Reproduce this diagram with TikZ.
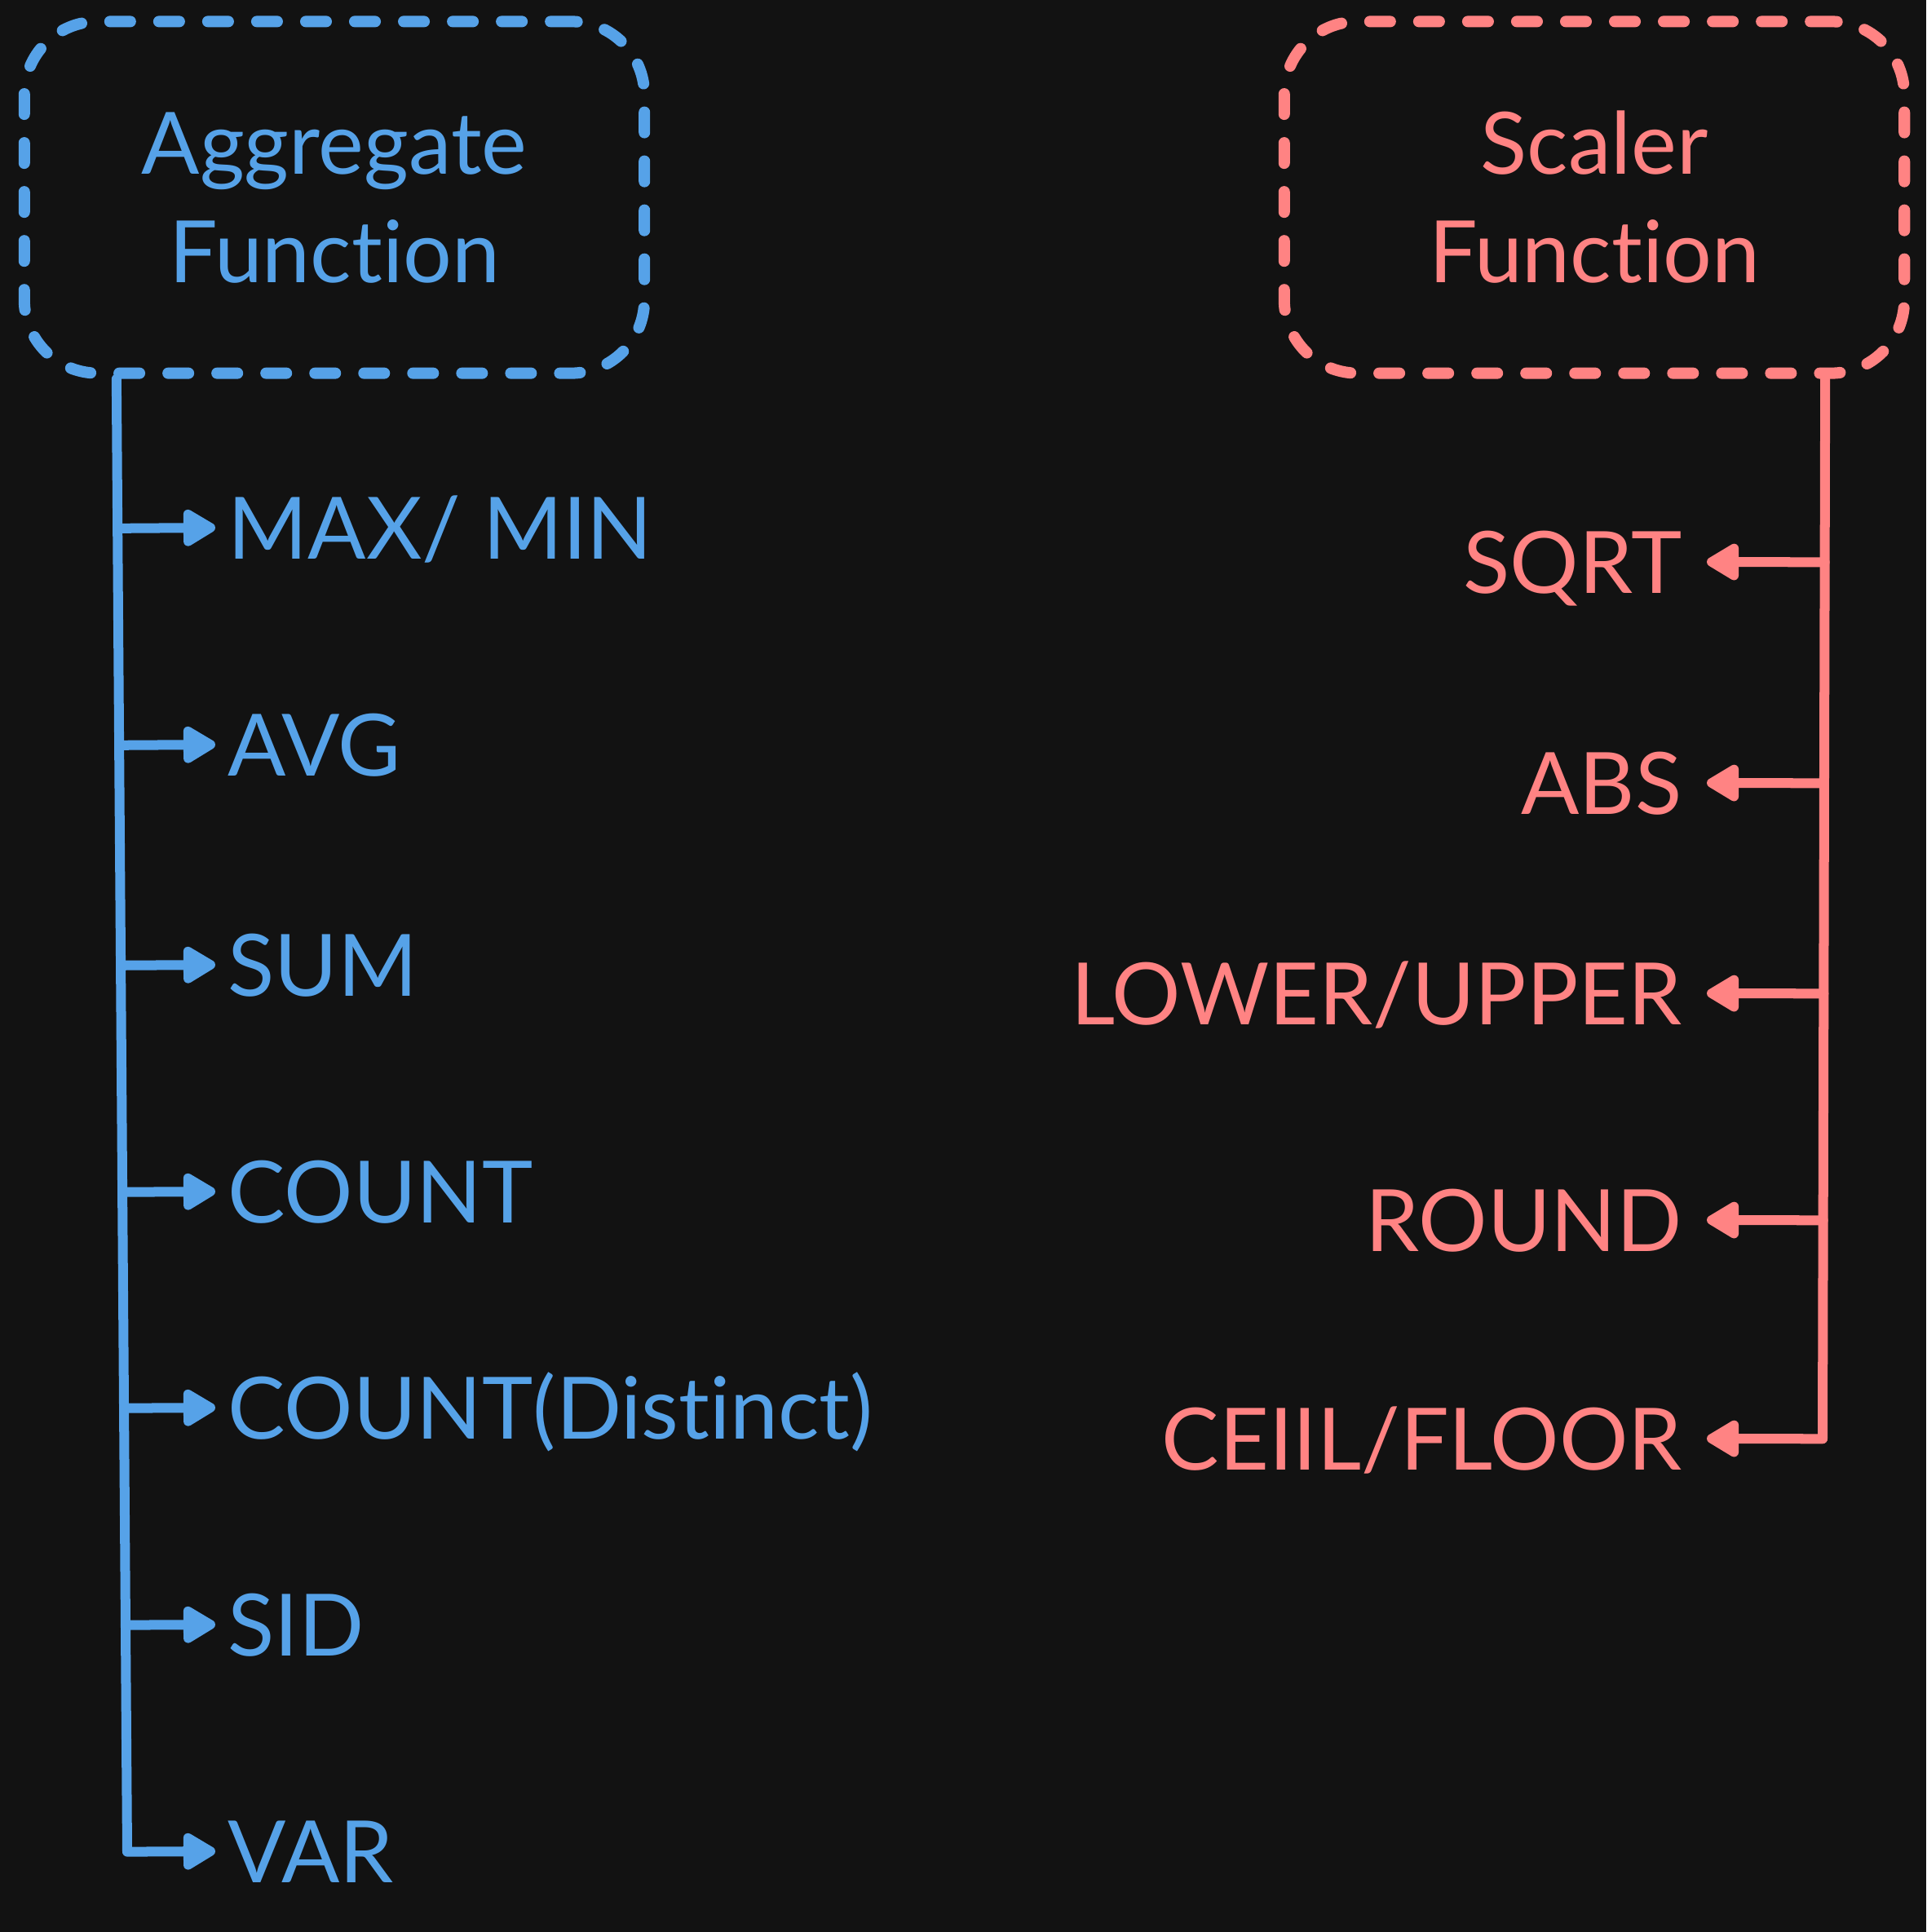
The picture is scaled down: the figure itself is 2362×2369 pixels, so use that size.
\documentclass[tikz,border=0pt]{standalone}
\usepackage{fontspec}
\setmainfont{Lato}[Ligatures={NoCommon,NoRequired,NoContextual}]
\usetikzlibrary{arrows.meta,calc}

\definecolor{bgdark}{HTML}{121212}
\definecolor{aggblue}{HTML}{56A2E8}
\definecolor{sclred}{HTML}{FF8383}

\tikzset{
  titlebox/.style={draw, line width=0.14cm, line cap=round,
    dash pattern=on 0.25cm off 0.35cm, rounded corners=0.9cm,
    minimum width=7.6cm, minimum height=4.31cm, align=center,
    text height=2.09cm, text depth=0pt,
    font=\fontsize{30}{37.8}\selectfont},
  fnitem/.style={font=\fontsize{30}{36}\selectfont,
    text height=0.76cm, text depth=0pt, inner ysep=0pt},
  link/.style={line width=0.12cm, line cap=round, line join=round},
  branch/.style={link, -{Triangle[length=0.45cm,width=0.5cm,round]}},
}

\begin{document}
\begin{tikzpicture}[x=0.01cm, y=-0.01cm]

% background
\fill[bgdark] (0,0) rectangle (2362,2369);
\useasboundingbox (0,0) rectangle (2362,2369);

% Aggregate side (left)
\begin{scope}[aggblue]
  \node[titlebox, text=aggblue] (agg) at (410,242) {Aggregate\\Function};
  \coordinate (aggfoot) at ([xshift=1.2cm]agg.south west);
  \coordinate (aggend) at (156,2270);
  \draw[link] (aggfoot) -- (aggend);

  \node[fnitem, anchor=west, inner xsep=0.15cm] (max)  at (264,647)  {MAX/ MIN};
  \node[fnitem, anchor=west, inner xsep=0.15cm] (avg)  at (264,913)  {AVG};
  \node[fnitem, anchor=west, inner xsep=0.15cm] (sum)  at (264,1183) {SUM};
  \node[fnitem, anchor=west, inner xsep=0.15cm] (cnt)  at (264,1461) {COUNT};
  \node[fnitem, anchor=west, inner xsep=0.15cm] (cntd) at (264,1726) {COUNT(Distinct)};
  \node[fnitem, anchor=west, inner xsep=0.15cm] (sid)  at (264,1992) {SID};
  \node[fnitem, anchor=west, inner xsep=0.15cm] (var)  at (264,2270) {VAR};

  \foreach \n in {max,avg,sum,cnt,cntd,sid,var}
    \draw[branch] ($(aggfoot)!(\n.west)!(aggend)$) -- (\n.west);
\end{scope}

% Scaler side (right)
\begin{scope}[sclred]
  \node[titlebox, text=sclred] (scl) at (1955,242) {Scaler\\Function};
  \coordinate (sclfoot) at ([xshift=-1.04cm]scl.south east);
  \coordinate (sclend) at (2235,1764);
  \draw[link] (sclfoot) -- (sclend);

  \node[fnitem, anchor=east, inner xsep=0.3cm] (sqrt)  at (2093,689)  {SQRT};
  \node[fnitem, anchor=east, inner xsep=0.3cm] (abs)   at (2093,960)  {ABS};
  \node[fnitem, anchor=east, inner xsep=0.3cm] (lower) at (2093,1218) {LOWER/UPPER};
  \node[fnitem, anchor=east, inner xsep=0.3cm] (round) at (2093,1496) {ROUND};
  \node[fnitem, anchor=east, inner xsep=0.3cm] (ceil)  at (2093,1764) {CEIIL/FLOOR};

  \foreach \n in {sqrt,abs,lower,round,ceil}
    \draw[branch] ($(sclfoot)!(\n.east)!(sclend)$) -- (\n.east);
\end{scope}

\end{tikzpicture}
\end{document}
